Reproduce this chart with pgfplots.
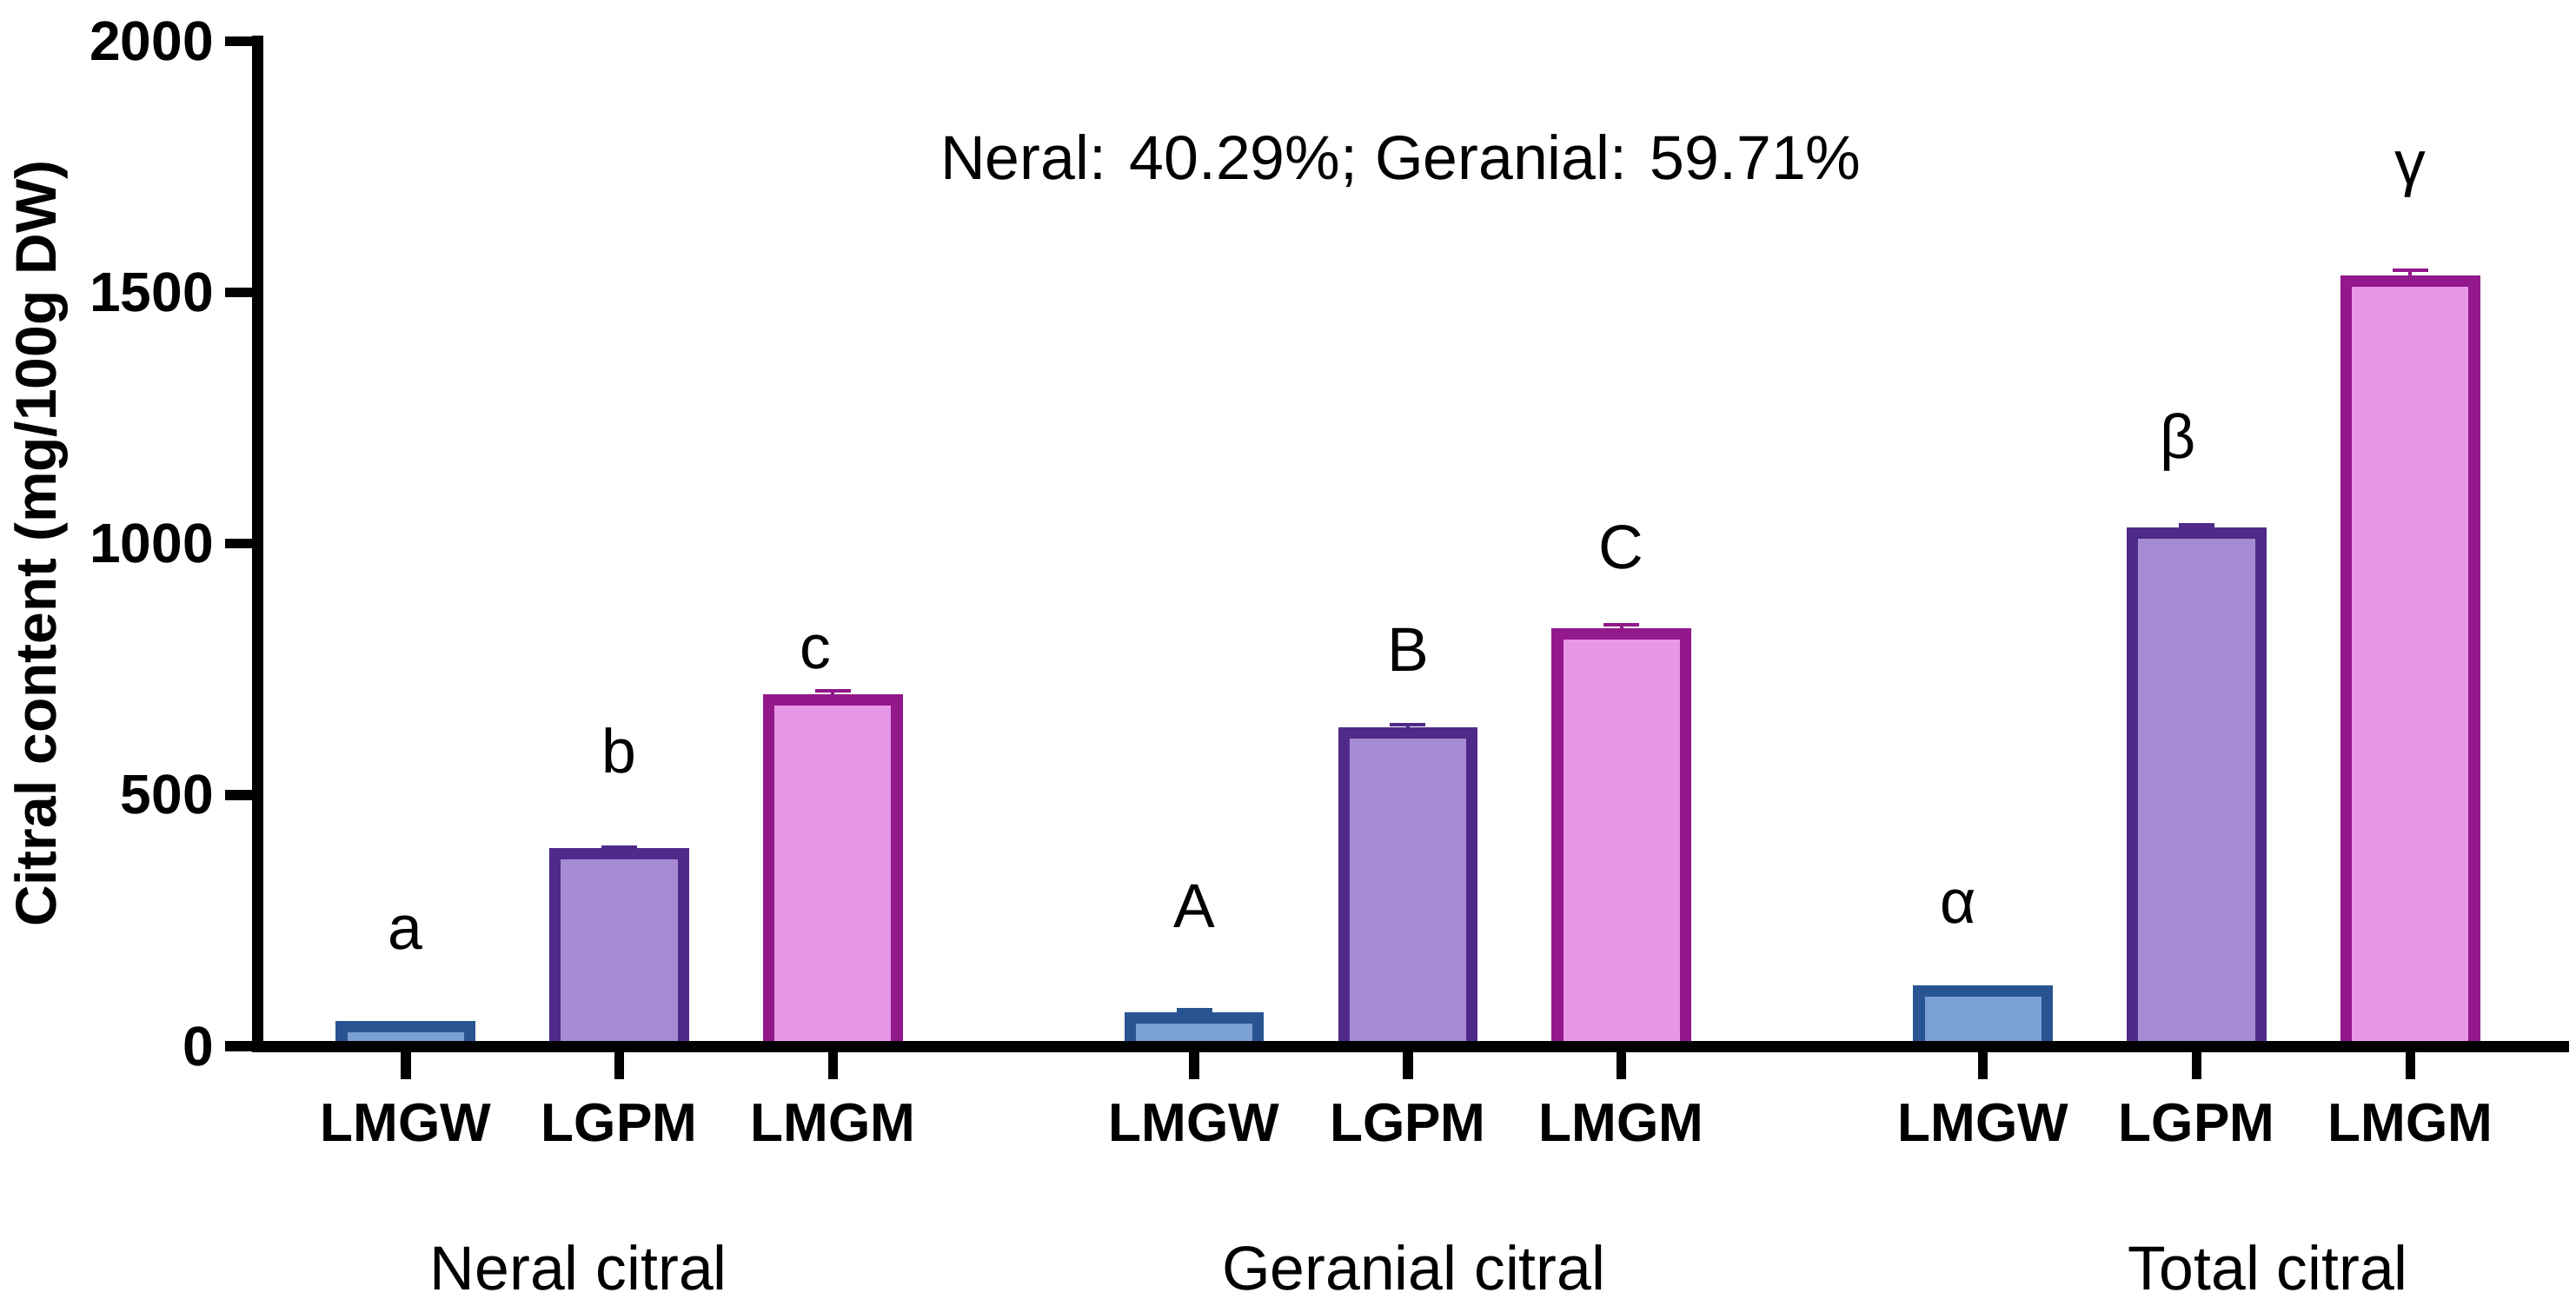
\documentclass[border=0pt]{standalone}
\usepackage{fontspec}
\setmainfont{Liberation Sans}
\usepackage{pgfplots}
\usepackage{pgfplotstable}
\pgfplotsset{compat=1.18}

\definecolor{lmgwfill}{RGB}{123,160,212}
\definecolor{lmgwdraw}{RGB}{41,84,146}
\definecolor{lgpmfill}{RGB}{165,140,210}
\definecolor{lgpmdraw}{RGB}{80,42,138}
\definecolor{lmgmfill}{RGB}{232,150,232}
\definecolor{lmgmdraw}{RGB}{146,24,139}

% x: neral, geranial, total groups
\pgfplotstableread{
x      y     err
0      39    8
3.692  57    15
7.385  110   3
}\lmgw
\pgfplotstableread{
x      y     err
1      383   13
4.692  624   16
8.385  1021  16
}\lgpm
\pgfplotstableread{
x      y     err
2      689   18
5.692  821   18
9.385  1522  22
}\lmgm

\begin{document}
\begin{tikzpicture}
\path[use as bounding box] (-78.5bp,-79bp) rectangle (705.5bp,318.5bp);
\begin{axis}[
    at={(0,0)}, anchor=south west,
    scale only axis,
    width=701.5bp, height=306bp,
    xmin=-0.692, xmax=10.1,
    ymin=0, ymax=2000,
    clip=false,
    axis on top,
    separate axis lines,
    axis x line*=bottom,
    axis y line*=left,
    axis line style={-, line width=3.5bp, black, line cap=rect},
    every outer x axis line/.append style={-},
    every outer y axis line/.append style={-},
    tick align=outside,
    major tick length=10bp,
    tick style={line width=3bp, black},
    ytick={0,500,1000,1500,2000},
    xtick={0,1,2,3.692,4.692,5.692,7.385,8.385,9.385},
    xticklabels={LMGW,LGPM,LMGM,LMGW,LGPM,LMGM,LMGW,LGPM,LMGM},
    /pgf/number format/assume math mode=true,
    /pgf/number format/1000 sep={},
    yticklabel style={font=\fontsize{17}{20}\selectfont\bfseries},
    xticklabel style={font=\fontsize{16.5}{20}\selectfont\bfseries, yshift=-4bp},
    ylabel={Citral content (mg/100g DW)},
    ylabel style={font=\fontsize{17.5}{20}\selectfont\bfseries, at={(axis description cs:-0.094,0.5)}, anchor=center},
    ybar, bar width=0.6, bar shift=0pt,
]
\addplot[fill=lmgwfill, draw=lmgwdraw, line width=3.5bp,
    error bars/.cd, y dir=plus, y explicit,
    error bar style={line width=1bp, draw=lmgwdraw},
    error mark options={rotate=90, mark size=5.4bp, line width=1.2bp, draw=lmgwdraw}]
    table[x=x, y=y, y error=err] {\lmgw};
\addplot[fill=lgpmfill, draw=lgpmdraw, line width=3.5bp,
    error bars/.cd, y dir=plus, y explicit,
    error bar style={line width=1bp, draw=lgpmdraw},
    error mark options={rotate=90, mark size=5.4bp, line width=1.2bp, draw=lgpmdraw}]
    table[x=x, y=y, y error=err] {\lgpm};
\addplot[fill=lmgmfill, draw=lmgmdraw, line width=3.5bp,
    error bars/.cd, y dir=plus, y explicit,
    error bar style={line width=1bp, draw=lmgmdraw},
    error mark options={rotate=90, mark size=5.4bp, line width=1.2bp, draw=lmgmdraw}]
    table[x=x, y=y, y error=err] {\lmgm};

\begin{scope}[every node/.style={font=\fontsize{19}{22}\selectfont}]
\node at (axis cs:4.66,1761) {Neral: 40.29\%; Geranial: 59.71\%};
\node at (axis cs:0,225) {a};
\node at (axis cs:1,588) {b};
\node at (axis cs:1.92,784) {c};
\node at (axis cs:3.692,278) {A};
\node at (axis cs:4.692,788) {B};
\node at (axis cs:5.692,993) {C};
\node at (axis cs:7.27,278) {α};
\node at (axis cs:8.3,1202) {β};
\node at (axis cs:9.385,1735) {γ};
\node at (axis cs:0.81,-441) {Neral citral};
\node at (axis cs:4.72,-441) {Geranial citral};
\node at (axis cs:8.72,-441) {Total citral};
\end{scope}
\end{axis}
\end{tikzpicture}
\end{document}
